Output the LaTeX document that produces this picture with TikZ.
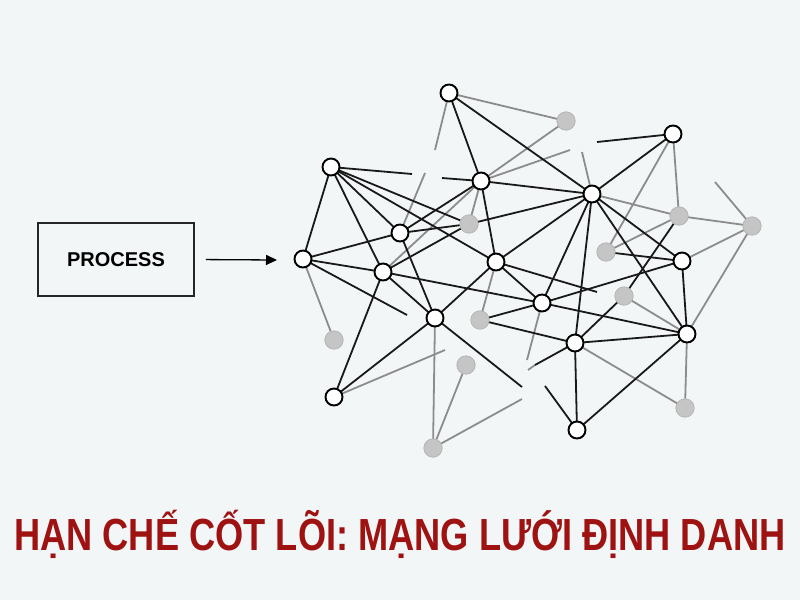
\documentclass[tikz,border=0pt]{standalone}
\usepackage{fontspec}
\setmainfont{Liberation Sans}
\usepackage{xcolor}
\usetikzlibrary{arrows.meta}
\definecolor{bgcol}{RGB}{243,246,247}
\definecolor{edgegray}{RGB}{140,140,140}
\definecolor{dotgray}{RGB}{197,197,197}
\definecolor{titlered}{RGB}{158,18,18}

\begin{document}
\begin{tikzpicture}[x=1pt,y=-1pt,
    blk/.style={line width=1.8pt, black!90},
    gry/.style={line width=1.8pt, edgegray},
    wnode/.style={fill=white, draw=black, line width=1.9pt},
    gnode/.style={fill=dotgray, draw=dotgray!92!black, line width=0.8pt}]
    % 背景
    \fill[bgcol] (0,0) rectangle (800,600);
    \useasboundingbox (0,0) rectangle (800,600);

    % 白色节点的位置
    \coordinate (w1) at (449,93);
    \coordinate (w2) at (331,167);
    \coordinate (w3) at (481,181);
    \coordinate (w4) at (592,194);
    \coordinate (w5) at (673,134);
    \coordinate (w6) at (400,233);
    \coordinate (w7) at (303,259);
    \coordinate (w8) at (383,272);
    \coordinate (w9) at (496,262);
    \coordinate (w10) at (682,261);
    \coordinate (w11) at (542,303);
    \coordinate (w12) at (435,318);
    \coordinate (w13) at (687,334);
    \coordinate (w14) at (575,343);
    \coordinate (w15) at (334,397);
    \coordinate (w16) at (577,430);

    % 灰色节点的位置
    \coordinate (g1) at (566,121);
    \coordinate (g2) at (469,224);
    \coordinate (g3) at (679,216);
    \coordinate (g4) at (752,226);
    \coordinate (g5) at (606,252);
    \coordinate (g6) at (624,296);
    \coordinate (g7) at (480,320);
    \coordinate (g8) at (334,340);
    \coordinate (g9) at (466,365);
    \coordinate (g10) at (433,448);
    \coordinate (g11) at (685,408);

    % 断开的线的端点
    \coordinate (s1) at (435,150);
    \coordinate (s2) at (412,174);
    \coordinate (s3) at (442,178);
    \coordinate (s4) at (425,173);
    \coordinate (s5) at (570,150);
    \coordinate (s6) at (597,142);
    \coordinate (s7) at (582,152);
    \coordinate (s8) at (715,182);
    \coordinate (s9) at (597,292);
    \coordinate (s10) at (407,315);
    \coordinate (s11) at (445,350);
    \coordinate (s12) at (522,387);
    \coordinate (s13) at (522,399);
    \coordinate (s14) at (527,360);
    \coordinate (s15) at (535,365);
    \coordinate (s16) at (545,386);
    \coordinate (s17) at (528,370);

    % 灰色的线
    \foreach \a/\b in {w1/g1, w1/s1, w3/g1, w3/s5, w3/g2, w3/w8, w6/s4, w4/s7,
        w4/g3, w5/g3, w5/g5, g3/g4, g3/g5, w10/g4, g4/w13, g4/s8, w13/g6,
        w13/g11, w14/g11, w9/g7, w11/s14, s15/s17, w7/g8, w12/g10, g10/g9,
        g10/s13, w15/s11}
        \draw[gry] (\a) -- (\b);

    % 黑色的线
    \foreach \a/\b in {w1/w3, w1/w4, w2/w7, w2/w8, w2/w6, w2/g2, w2/w9, w2/s2,
        s3/w3, w3/w4, w3/w6, w3/w9, w4/w5, w4/g2, w4/w9, w4/w11, w4/w14,
        w4/w10, w4/w13, w5/s6, g3/g6, g6/w14, w10/g5, w10/w13, w10/w11,
        w13/w11, w13/w14, w13/w16, w14/w16, w14/g7, w14/s15, w11/g7, w11/w9,
        w11/w8, w9/w12, w9/s9, w8/g2, w8/w12, w8/w15, w8/w7, w7/w6, w7/s10,
        w6/g2, w6/w12, w12/w15, w12/s12, w16/s16}
        \draw[blk] (\a) -- (\b);

    % 画节点
    \foreach \p in {g1,g2,g3,g4,g5,g6,g7,g8,g9,g10,g11}
        \filldraw[gnode] (\p) circle (9.2pt);
    \foreach \p in {w1,w2,w3,w4,w5,w6,w7,w8,w9,w10,w11,w12,w13,w14,w15,w16}
        \filldraw[wnode] (\p) circle (8.5pt);

    % 左边的方框和箭头
    \node[draw=black!85, line width=1.5pt, minimum width=156pt, minimum height=73pt,
        font=\bfseries\fontsize{20}{24}\selectfont] (process) at (116,259.5) {PROCESS};
    \coordinate (arrowend) at (277,260);
    \draw[line width=1.3pt, -{Triangle[length=11pt,width=10pt]}, shorten <=11pt]
        (process.east) -- (arrowend);

    % 标题
    \node[anchor=base, text=titlered, font=\bfseries\fontsize{45}{50}\selectfont]
        (title) at (400,550) {\scalebox{0.805}[1]{HẠN CHẾ CỐT LÕI: MẠNG LƯỚI ĐỊNH DANH}};
\end{tikzpicture}
\end{document}
